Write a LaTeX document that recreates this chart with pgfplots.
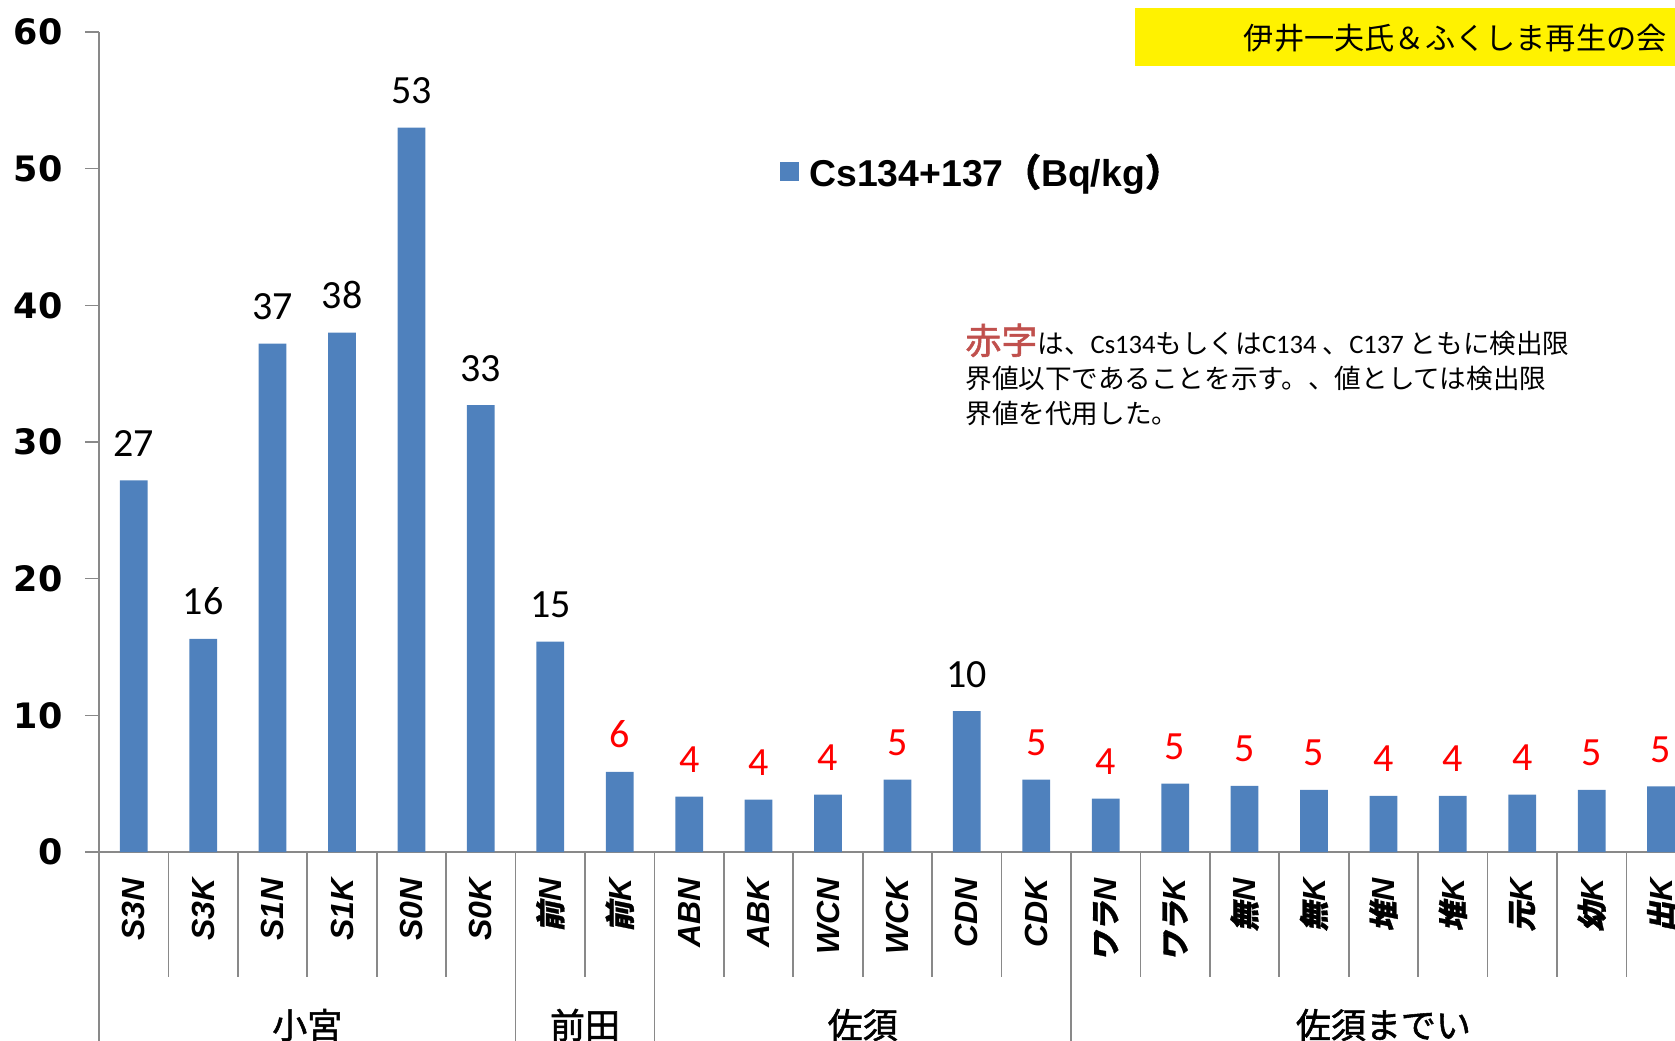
\documentclass[border=0pt]{standalone}
\usepackage{pgfplots}
\pgfplotsset{compat=1.18}
\usepackage{fontspec}
\setmainfont{Liberation Sans}
\newfontfamily\dejab{DejaVu Sans}
\newfontfamily\cjk{Noto Sans CJK JP}
\newfontfamily\cjkb{Noto Sans CJK JP}[FakeBold=1.5]
\newfontfamily\cjksl{Noto Sans CJK JP}[FakeBold=1.0, FakeSlant=0.2]
\newfontfamily\carl{Carlito}
\definecolor{barblue}{HTML}{4F81BD}
\definecolor{axgray}{HTML}{898989}
\definecolor{note}{HTML}{C0504D}
\newcommand{\J}[1]{{\cjksl\fontsize{15}{15}\selectfont #1}}
\begin{document}
\begin{tikzpicture}
\useasboundingbox (-49.5pt,-94pt) rectangle (788pt,426pt);
\clip (-49.5pt,-94pt) rectangle (788pt,426pt);
\begin{axis}[
 at={(0,0)}, anchor=south west,
 scale only axis, width=788pt, height=410pt,
 xmin=-0.5, xmax=22.2, ymin=0, ymax=60,
 axis lines*=left,
 axis line style={axgray, line width=0.8pt},
 ytick={0,10,...,60},
 ytick style={axgray, line width=0.8pt},
 tick align=outside,
 major tick length=7pt,
 xtick={0,...,22},
 xtick style={draw=none},
 xticklabels={S3N,S3K,S1N,S1K,S0N,S0K,\J{前}N,\J{前}K,ABN,ABK,WCN,WCK,CDN,CDK,\J{ワラ}N,\J{ワラ}K,\J{無}N,\J{無}K,\J{堆}N,\J{堆}K,\J{元}K,\J{幼}K,\J{出}K},
 xticklabel style={anchor=east, inner sep=0pt, yshift=-6pt, rotate=90, font=\bfseries\itshape\fontsize{16}{16}\selectfont},
 yticklabel style={font=\dejab\bfseries\fontsize{17.5}{17.5}\selectfont, inner sep=0pt, anchor=east, xshift=-11pt},
 /pgf/number format/assume math mode=true,
 clip=false,
 legend style={at={(0.432,0.830)}, anchor=west, draw=none, fill=none, inner sep=0pt,
   nodes={inner sep=0pt}, column sep=5pt, font=\bfseries\fontsize{18.7}{18.7}\selectfont},
]
\addplot[ybar, bar width=0.4, fill=barblue, draw=none,
  legend image code/.code={\fill[barblue] (0pt,-4.75pt) rectangle (9.5pt,4.75pt);}]
 coordinates {(0,27.2) (1,15.6) (2,37.2) (3,38.0) (4,53.0) (5,32.7) (6,15.4) (7,5.86)
 (8,4.06) (9,3.83) (10,4.2) (11,5.3) (12,10.3) (13,5.3) (14,3.9) (15,5.0) (16,4.84)
 (17,4.55) (18,4.1) (19,4.1) (20,4.2) (21,4.55) (22,4.8)};
\addlegendentry{Cs134+137{\cjkb（}Bq/kg{\cjkb）}}
\addplot[draw=none, mark=none, forget plot, point meta=explicit symbolic, nodes near coords,
  nodes near coords style={anchor=base, yshift=12pt, inner sep=0pt, text=black, font=\carl\fontsize{20}{20}\selectfont}]
 coordinates {(0,27.2) [27] (1,15.6) [16] (2,37.2) [37] (3,38.0) [38] (4,53.0) [53] (5,32.7) [33] (6,15.4) [15] (12,10.3) [10]};
\addplot[draw=none, mark=none, forget plot, point meta=explicit symbolic, nodes near coords,
  nodes near coords style={anchor=base, yshift=12pt, inner sep=0pt, text=red, font=\carl\fontsize{20}{20}\selectfont}]
 coordinates {(7,5.86) [6] (8,4.06) [4] (9,3.83) [4] (10,4.2) [4] (11,5.3) [5] (13,5.3) [5]
 (14,3.9) [4] (15,5.0) [5] (16,4.84) [5] (17,4.55) [5] (18,4.1) [4] (19,4.1) [4] (20,4.2) [4] (21,4.55) [5] (22,4.8) [5]};
\pgfplotsinvokeforeach{0.5,1.5,2.5,3.5,4.5,6.5,8.5,9.5,10.5,11.5,12.5,14.5,15.5,16.5,17.5,18.5,19.5,20.5,21.5}{
  \draw[axgray, line width=0.8pt] (axis cs:#1,0) -- ++(0pt,-62.5pt);}
\pgfplotsinvokeforeach{-0.5,5.5,7.5,13.5}{
  \draw[axgray, line width=0.8pt] (axis cs:#1,0) -- ++(0pt,-100pt);}
\node[font=\cjkb\fontsize{17.5}{17.5}\selectfont] at ([yshift=-86.5pt]axis cs:2.5,0) {小宮};
\node[font=\cjkb\fontsize{17.5}{17.5}\selectfont] at ([yshift=-86.5pt]axis cs:6.5,0) {前田};
\node[font=\cjkb\fontsize{17.5}{17.5}\selectfont] at ([yshift=-86.5pt]axis cs:10.5,0) {佐須};
\node[font=\cjkb\fontsize{17.5}{17.5}\selectfont] at ([yshift=-86.5pt]axis cs:18,0) {佐須までい};
\end{axis}
\fill[yellow] (517.75pt,393pt) rectangle (790pt,421.75pt);
\node[anchor=base east, inner sep=0pt, font=\cjk\fontsize{15.1}{15.1}\selectfont] at (784pt,401pt) {伊井一夫氏＆ふくしま再生の会};
\node[anchor=base west, inner sep=0pt, font=\fontsize{13.3}{13.3}\selectfont] at (433pt,249pt)
 {{\cjkb\fontsize{18}{18}\selectfont\color{note}赤字}{\cjk は、}{\carl Cs134}{\cjk もしくは}{\carl C134 }{\cjk 、}{\carl C137 }{\cjk ともに検出限}};
\node[anchor=base west, inner sep=0pt, font=\cjk\fontsize{13.3}{13.3}\selectfont] at (433pt,231.75pt) {界値以下であることを示す。、値としては検出限};
\node[anchor=base west, inner sep=0pt, font=\cjk\fontsize{13.3}{13.3}\selectfont] at (433pt,214.5pt) {界値を代用した。};
\end{tikzpicture}
\end{document}
